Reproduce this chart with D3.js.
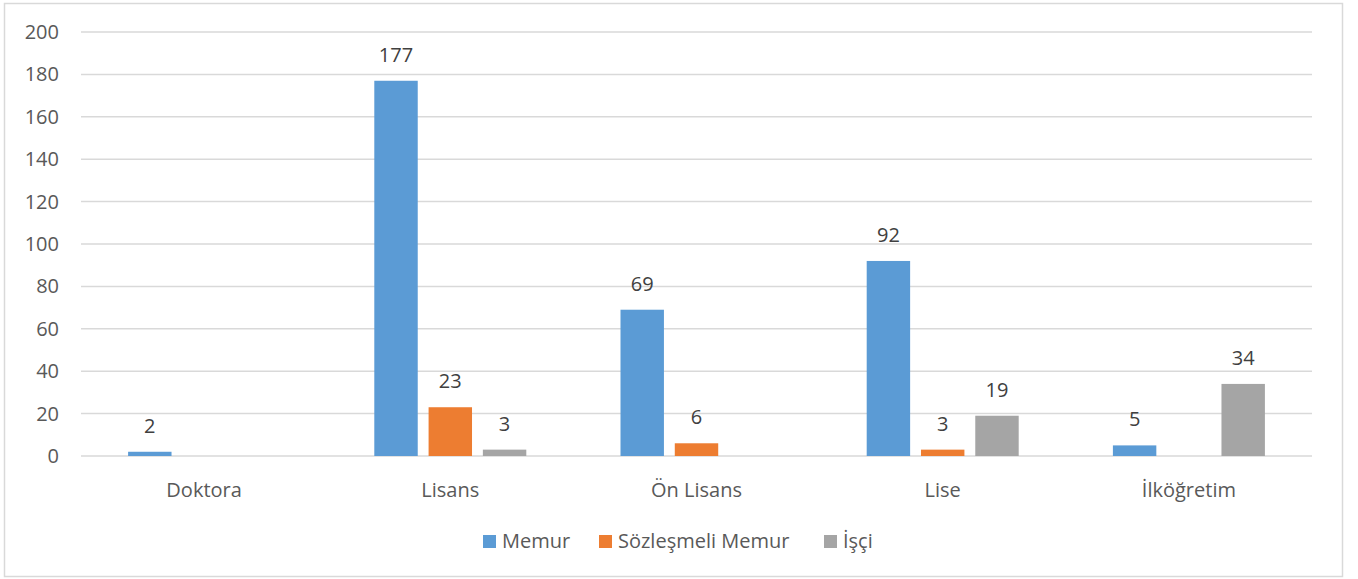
<!DOCTYPE html>
<html>
<head>
<meta charset="utf-8">
<script src="https://d3js.org/d3.v7.min.js"></script>
<style>
  body { margin: 0; padding: 0; background: #fff; }
  text { font-family: "Open Sans", "Noto Sans", sans-serif; }
  .axis text { fill: #595959; font-size: 20px; }
  .axis path, .axis line { stroke: none; }
  .grid line { stroke: #d9d9d9; stroke-width: 1.5; }
  .label { fill: #404040; font-size: 20px; text-anchor: middle; }
</style>
</head>
<body>
<div id="chart"></div>
<script>
var categories = ["Doktora", "Lisans", "Ön Lisans", "Lise", "İlköğretim"];
var seriesNames = ["Memur", "Sözleşmeli Memur", "İşçi"];
var memur = [2, 177, 69, 92, 5];
var sozlesmeli = [null, 23, 6, 3, null];
var isci = [null, 3, null, 19, 34];
var yTicks = [0, 20, 40, 60, 80, 100, 120, 140, 160, 180, 200];
var colors = ["#5b9bd5", "#ed7d31", "#a5a5a5"];

var W = 1358, H = 579;
var margin = {top: 32, right: 46, bottom: 123, left: 81},
    width = 1312 - margin.left,
    height = 456 - margin.top;

var svg = d3.select("#chart").append("svg")
    .attr("width", W)
    .attr("height", H);

svg.append("rect")
    .attr("x", 4.5).attr("y", 3.5)
    .attr("width", 1338).attr("height", 573)
    .attr("fill", "#fff")
    .attr("stroke", "#d9d9d9")
    .attr("stroke-width", 1.5);

var g = svg.append("g")
    .attr("transform", "translate(" + margin.left + "," + margin.top + ")");

var y = d3.scaleLinear().domain([0, 200]).range([height, 0]);
var x0 = d3.scaleBand().domain(categories).range([0, width]).paddingInner(0).paddingOuter(0);
var groupW = 152;
var x1 = d3.scaleBand().domain(seriesNames)
    .range([(x0.bandwidth() - groupW) / 2, (x0.bandwidth() + groupW) / 2])
    .paddingInner(0.2).paddingOuter(0);

// grid
g.append("g").attr("class", "grid")
  .selectAll("line").data(yTicks).enter().append("line")
    .attr("x1", 0).attr("x2", width)
    .attr("y1", function(d) { return y(d); })
    .attr("y2", function(d) { return y(d); });

g.append("g").attr("class", "y axis")
    .call(d3.axisLeft(y).tickValues(yTicks).tickSize(0).tickPadding(22))
    .selectAll("text").attr("text-anchor", "end");

g.append("g").attr("class", "x axis")
    .attr("transform", "translate(0," + height + ")")
    .call(d3.axisBottom(x0).tickSize(0).tickPadding(27));

var data = [memur, sozlesmeli, isci];
var rows = [];
categories.forEach(function(c, i) {
  seriesNames.forEach(function(s, j) {
    rows.push({cat: c, series: s, value: data[j][i], color: colors[j]});
  });
});
var valid = rows.filter(function(d) { return d.value != null; });

g.selectAll(".bar").data(valid).enter().append("rect")
    .attr("class", "bar")
    .attr("x", function(d) { return x0(d.cat) + x1(d.series); })
    .attr("width", x1.bandwidth())
    .attr("y", function(d) { return y(d.value); })
    .attr("height", function(d) { return height - y(d.value); })
    .attr("fill", function(d) { return d.color; });

g.selectAll(".label").data(valid).enter().append("text")
    .attr("class", "label")
    .attr("x", function(d) { return x0(d.cat) + x1(d.series) + x1.bandwidth() / 2; })
    .attr("y", function(d) { return y(d.value) - 19; })
    .text(function(d) { return d.value; });

// legend
var legendX = [483, 599, 824];
var legend = svg.append("g").selectAll("g").data(seriesNames).enter().append("g")
    .attr("transform", function(d, i) { return "translate(" + legendX[i] + ",535)"; });
legend.append("rect").attr("width", 13).attr("height", 13)
    .attr("fill", function(d, i) { return colors[i]; });
legend.append("text").attr("x", 19).attr("y", 13)
    .attr("fill", "#595959").style("font-size", "20px")
    .text(function(d) { return d; });
</script>
</body>
</html>
